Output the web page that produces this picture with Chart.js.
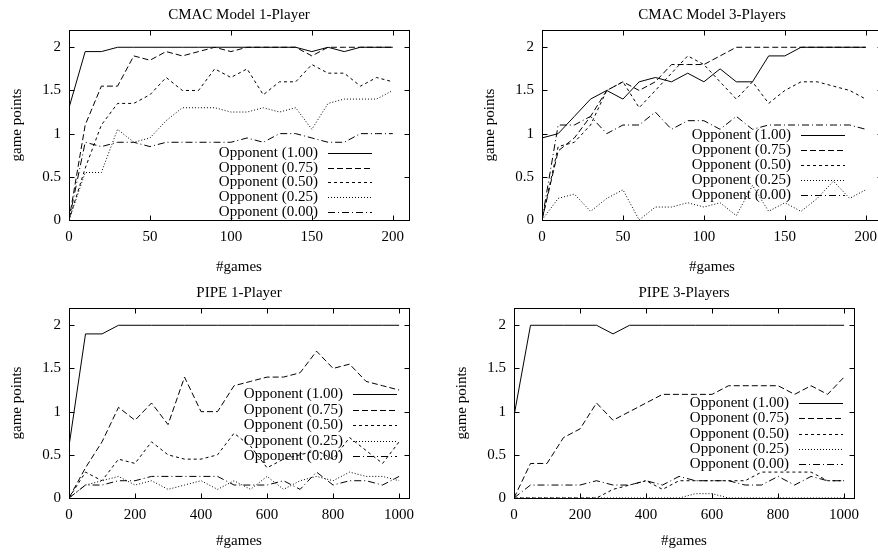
<!DOCTYPE html>
<html><head><meta charset="utf-8">
<script src="https://cdn.jsdelivr.net/npm/chart.js@4/dist/chart.umd.min.js"></script>
<style>
html,body{margin:0;padding:0;background:#fff;overflow:hidden;width:878px;height:553px;position:relative}
canvas{position:absolute}
</style></head><body>
<canvas id="c1" width="439" height="276" style="left:0px;top:0px"></canvas>
<canvas id="c2" width="439" height="276" style="left:473px;top:0px"></canvas>
<canvas id="c3" width="439" height="276" style="left:0px;top:278px"></canvas>
<canvas id="c4" width="439" height="276" style="left:445px;top:278px"></canvas>
<script>
// ---- data ----
const seriesLabels = ['Opponent (1.00)','Opponent (0.75)','Opponent (0.50)','Opponent (0.25)','Opponent (0.00)'];
const yTicks = [0, 0.5, 1, 1.5, 2];
const cmacGames = [0,10,20,30,40,50,60,70,80,90,100,110,120,130,140,150,160,170,180,190,200];
const cmacTicks = [0, 50, 100, 150, 200];
const pipeGames = [0,50,100,150,200,250,300,350,400,450,500,550,600,650,700,750,800,850,900,950,1000];
const pipeTicks = [0, 200, 400, 600, 800, 1000];

const cmac1_100 = [1.3,1.95,1.95,2,2,2,2,2,2,2,2,2,2,2,2,1.95,2,1.95,2,2,2];
const cmac1_075 = [0,1.1,1.55,1.55,1.9,1.85,1.95,1.9,1.95,2,1.95,2,2,2,2,1.9,2,2,2,2,2];
const cmac1_050 = [0,0.6,1.1,1.35,1.35,1.45,1.65,1.5,1.5,1.75,1.65,1.75,1.45,1.6,1.6,1.8,1.7,1.7,1.55,1.65,1.6];
const cmac1_025 = [0,0.55,0.55,1.05,0.9,0.95,1.15,1.3,1.3,1.3,1.25,1.25,1.3,1.25,1.3,1.05,1.35,1.4,1.4,1.4,1.5];
const cmac1_000 = [0,0.9,0.85,0.9,0.9,0.85,0.9,0.9,0.9,0.9,0.9,0.95,0.9,1,1,0.95,0.9,0.9,1,1,1];

const cmac3_100 = [0.95,1.0,1.2,1.4,1.5,1.4,1.6,1.65,1.6,1.7,1.6,1.75,1.6,1.6,1.9,1.9,2,2,2,2,2];
const cmac3_075 = [0,0.8,0.95,1.2,1.5,1.6,1.5,1.6,1.8,1.8,1.8,1.9,2,2,2,2,2,2,2,2,2];
const cmac3_050 = [0,0.85,0.9,1.1,1.5,1.6,1.3,1.5,1.7,1.9,1.8,1.6,1.4,1.6,1.35,1.5,1.6,1.6,1.55,1.5,1.4];
const cmac3_025 = [0,0.25,0.3,0.1,0.25,0.35,0,0.15,0.15,0.2,0.15,0.2,0.05,0.4,0.1,0.2,0.1,0.25,0.45,0.25,0.35];
const cmac3_000 = [0,1.1,1.1,1.2,1.0,1.1,1.1,1.25,1.05,1.15,1.15,1.05,1.2,1.05,1.1,1.1,1.1,1.1,1.1,1.1,1.05];

const pipe1_100 = [0.6,1.9,1.9,2,2,2,2,2,2,2,2,2,2,2,2,2,2,2,2,2,2];
const pipe1_075 = [0,0.35,0.65,1.05,0.9,1.1,0.85,1.4,1.0,1.0,1.3,1.35,1.4,1.4,1.45,1.7,1.5,1.55,1.35,1.3,1.25];
const pipe1_050 = [0,0.3,0.2,0.45,0.4,0.65,0.5,0.45,0.45,0.5,0.75,0.6,0.35,0.45,0.5,0.55,0.45,0.7,0.55,0.4,0.65];
const pipe1_025 = [0,0.15,0.2,0.25,0.15,0.2,0.1,0.15,0.2,0.1,0.2,0.1,0.25,0.1,0.2,0.25,0.2,0.3,0.25,0.25,0.2];
const pipe1_000 = [0,0.15,0.15,0.2,0.2,0.25,0.25,0.25,0.25,0.25,0.15,0.15,0.15,0.2,0.1,0.3,0.15,0.2,0.2,0.15,0.25];

const pipe3_100 = [0.95,2,2,2,2,2,1.9,2,2,2,2,2,2,2,2,2,2,2,2,2,2];
const pipe3_075 = [0,0.4,0.4,0.7,0.8,1.1,0.9,1.0,1.1,1.2,1.2,1.2,1.2,1.3,1.3,1.3,1.3,1.2,1.3,1.2,1.4];
const pipe3_050 = [0,0,0,0,0,0,0.1,0.15,0.2,0.1,0.2,0.2,0.2,0.2,0.2,0.3,0.3,0.3,0.3,0.2,0.2];
const pipe3_025 = [0,0,0,0,0,0,0,0,0,0,0,0.05,0.05,0,0,0,0,0,0,0,0];
const pipe3_000 = [0,0.15,0.15,0.15,0.15,0.2,0.15,0.15,0.2,0.15,0.25,0.2,0.2,0.2,0.15,0.15,0.25,0.15,0.25,0.2,0.2];

// ---- styles ----
const FONT = '"Liberation Serif", "DejaVu Serif", serif';
const dashes = [[], [6,3], [3,3], [1,2], [7,3,1,3]];

const framePlugin = {
  id: 'frame',
  afterDatasetsDraw(chart, args, opts) {
    const {ctx, chartArea: a, scales} = chart;
    const x = scales.x, y = scales.y;
    ctx.save();
    ctx.strokeStyle = '#000';
    ctx.lineWidth = 1;
    ctx.setLineDash([]);
    const L = Math.round(a.left) + 0.5, R = Math.round(a.right) + 0.5;
    const T = Math.round(a.top) + 0.5, B = Math.round(a.bottom) + 0.5;
    ctx.strokeRect(L, T, R - L, B - T);
    const tl = 5;
    ctx.beginPath();
    x.ticks.forEach(t => {
      const px = Math.round(x.getPixelForValue(t.value)) + 0.5;
      ctx.moveTo(px, B); ctx.lineTo(px, B - tl);
      ctx.moveTo(px, T); ctx.lineTo(px, T + tl);
    });
    y.ticks.forEach(t => {
      const py = Math.round(y.getPixelForValue(t.value)) + 0.5;
      ctx.moveTo(L, py); ctx.lineTo(L + tl, py);
      ctx.moveTo(R, py); ctx.lineTo(R - tl, py);
    });
    ctx.stroke();
    // legend
    const lg = opts;
    ctx.font = '15px ' + FONT;
    ctx.fillStyle = '#000';
    ctx.textAlign = 'right';
    ctx.textBaseline = 'middle';
    const n = chart.data.datasets.length;
    const textRight = a.right - lg.right;
    chart.data.datasets.forEach((ds, i) => {
      const yy = a.bottom - lg.bottom - (n - 1 - i) * lg.rowH;
      ctx.fillText(ds.label, textRight, yy);
      ctx.beginPath();
      ctx.setLineDash(ds.borderDash || []);
      ctx.moveTo(textRight + 10, Math.round(yy) + 0.5);
      ctx.lineTo(textRight + 54, Math.round(yy) + 0.5);
      ctx.stroke();
    });
    ctx.restore();
  }
};

function makePanel(id, title, xs, xMax, xTicks, series, legend, xTitlePad) {
  const datasets = series.map((vals, i) => ({
    label: seriesLabels[i],
    data: xs.map((xv, k) => ({x: xv, y: vals[k]})),
    borderColor: '#000',
    borderWidth: 1,
    borderDash: dashes[i],
    pointRadius: 0,
    tension: 0,
    fill: false
  }));
  new Chart(document.getElementById(id), {
    type: 'line',
    data: {datasets},
    plugins: [framePlugin],
    options: {
      responsive: false,
      animation: false,
      devicePixelRatio: 1,
      layout: {padding: {left: 0, right: 30, top: 0, bottom: 0}, autoPadding: false},
      plugins: {
        legend: {display: false},
        tooltip: {enabled: false},
        title: {display: true, text: title, fullSize: false, color: '#000',
                font: {family: FONT, size: 15, weight: 'normal'}, padding: {top: 6, bottom: 6}},
        frame: legend
      },
      scales: {
        x: {
          type: 'linear', min: 0, max: xMax,
          afterBuildTicks: s => { s.ticks = xTicks.map(v => ({value: v})); },
          afterFit: s => { s.height = 56; },
          ticks: {color: '#000', font: {family: FONT, size: 15}, padding: 8, maxRotation: 0, autoSkip: false,
                  callback: v => String(v)},
          grid: {display: false, drawTicks: false},
          border: {display: false},
          title: {display: true, text: '#games', color: '#000', font: {family: FONT, size: 15},
                  padding: {top: 0, bottom: xTitlePad}}
        },
        y: {
          type: 'linear', min: 0, max: 2.2,
          afterBuildTicks: s => { s.ticks = yTicks.map(v => ({value: v})); },
          afterFit: s => { s.width = 69; },
          ticks: {color: '#000', font: {family: FONT, size: 15}, padding: 8, autoSkip: false,
                  callback: v => String(v)},
          grid: {display: false, drawTicks: false},
          border: {display: false},
          title: {display: true, text: 'game points', color: '#000', font: {family: FONT, size: 15},
                  padding: {top: 8, bottom: 0}}
        }
      }
    }
  });
}

makePanel('c1', 'CMAC Model 1-Player', cmacGames, 210, cmacTicks,
  [cmac1_100, cmac1_075, cmac1_050, cmac1_025, cmac1_000], {right: 91, bottom: 8, rowH: 14.8}, 0);
makePanel('c2', 'CMAC Model 3-Players', cmacGames, 210, cmacTicks,
  [cmac3_100, cmac3_075, cmac3_050, cmac3_025, cmac3_000], {right: 91, bottom: 25, rowH: 15}, 0);
makePanel('c3', 'PIPE 1-Player', pipeGames, 1030, pipeTicks,
  [pipe1_100, pipe1_075, pipe1_050, pipe1_025, pipe1_000], {right: 66, bottom: 42, rowH: 15.4}, 4);
makePanel('c4', 'PIPE 3-Players', pipeGames, 1030, pipeTicks,
  [pipe3_100, pipe3_075, pipe3_050, pipe3_025, pipe3_000], {right: 65, bottom: 34, rowH: 15.2}, 4);
</script>
</body></html>
